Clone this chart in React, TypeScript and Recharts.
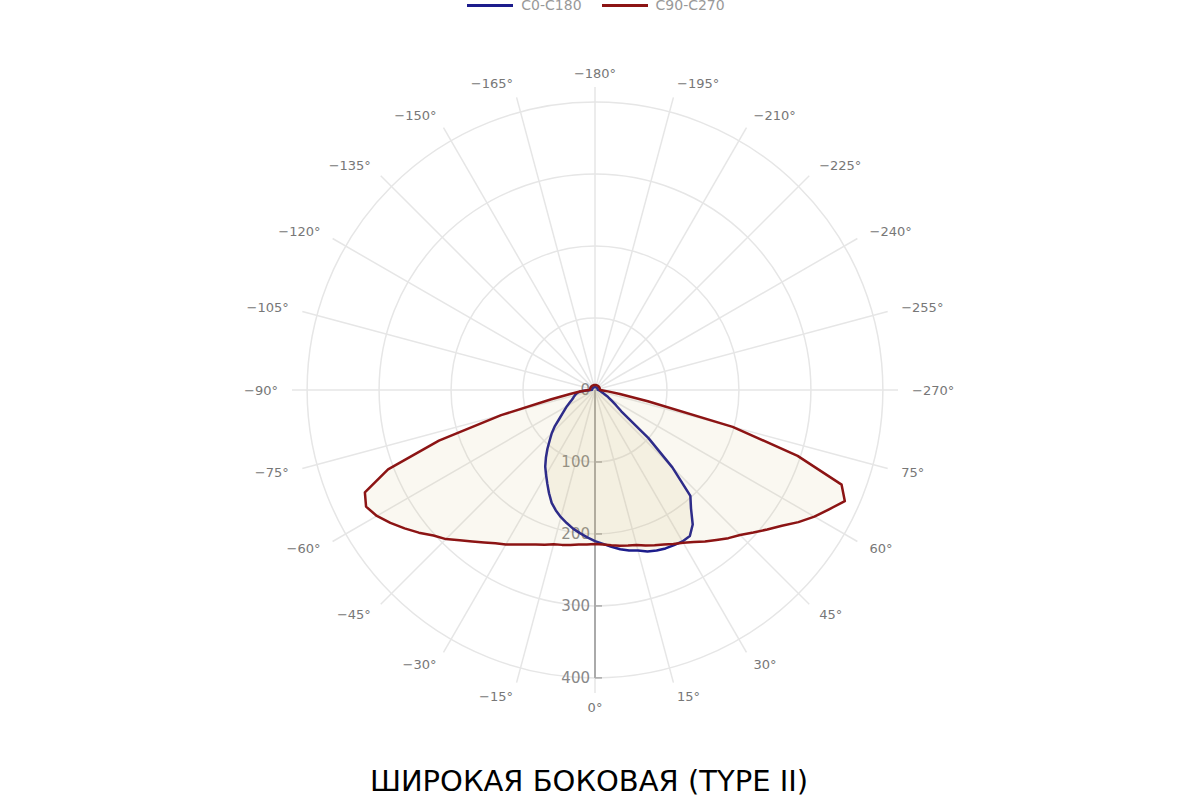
import React from "react";
import {
  RadarChart,
  Radar,
  PolarGrid,
  PolarAngleAxis,
  PolarRadiusAxis,
  Legend,
} from "recharts";

// angle labels every 15°, starting at the bottom and going clockwise
const angleLabels = [
  "0°", "−15°", "−30°", "−45°", "−60°", "−75°",
  "−90°", "−105°", "−120°", "−135°", "−150°", "−165°",
  "−180°", "−195°", "−210°", "−225°", "−240°", "−255°",
  "−270°", "75°", "60°", "45°", "30°", "15°",
];

const radiusTicks = [0, 100, 200, 300, 400];

// sample angles, 3° apart, clockwise from the bottom
const sampleAngles = [
  0, -3, -6, -9, -12, -15, -18, -21, -24, -27, -30, -33,
  -36, -39, -42, -45, -48, -51, -54, -57, -60, -63, -66, -69,
  -72, -75, -78, -81, -84, -87, -90, -93, -96, -99, -102, -105,
  -108, -111, -114, -117, -120, -123, -126, -129, -132, -135, -138, -141,
  -144, -147, -150, -153, -156, -159, -162, -165, -168, -171, -174, -177,
  -180, -183, -186, -189, -192, -195, -198, -201, -204, -207, -210, -213,
  -216, -219, -222, -225, -228, -231, -234, -237, -240, -243, -246, -249,
  -252, -255, -258, -261, -264, -267, -270, -273, -276, -279, -282, -285,
  -288, -291, -294, -297, -300, -303, -306, -309, -312, -315, -318, -321,
  -324, -327, -330, -333, -336, -339, -342, -345, -348, -351, -354, -357,
];

// C0-C180, cd/klm
const c0c180 = [
  210, 205, 200, 195, 189, 183, 176, 168, 157, 146, 136, 127,
  116, 105, 94, 85, 75, 64, 56, 50, 45, 40, 36, 33,
  31, 29, 27, 25, 21, 12, 6, 4, 4, 4, 4, 4,
  4, 4, 4, 4, 4, 4, 4, 4, 4, 4, 4, 4,
  4, 4, 4, 4, 4, 4, 4, 4, 4, 4, 4, 4,
  4, 4, 4, 4, 4, 4, 4, 4, 4, 4, 4, 4,
  4, 4, 4, 4, 4, 4, 4, 4, 4, 4, 4, 4,
  4, 4, 4, 4, 4, 4, 5, 5, 6, 7, 8, 9,
  10, 12, 15, 19, 23, 28, 36, 47, 100, 152, 198, 212,
  231, 242, 243, 242, 241, 239, 236, 231, 228, 224, 219, 214,
];

// C90-C270, cd/klm
const c90c270 = [
  214, 215, 216, 218, 220, 222, 226, 230, 235, 241, 248, 254,
  262, 271, 281, 293, 302, 315, 327, 339, 350, 357, 350, 308,
  228, 135, 62, 35, 21, 13, 8, 7, 7, 7, 7, 7,
  7, 7, 7, 7, 7, 7, 7, 7, 7, 7, 7, 7,
  7, 7, 7, 7, 7, 7, 7, 7, 7, 7, 7, 7,
  7, 7, 7, 7, 7, 7, 7, 7, 7, 7, 7, 7,
  7, 7, 7, 7, 7, 7, 7, 7, 7, 7, 7, 7,
  7, 7, 7, 7, 7, 7, 8, 11, 18, 35, 75, 198,
  296, 367, 380, 365, 352, 337, 321, 308, 296, 285, 277, 268,
  260, 252, 245, 240, 235, 231, 227, 223, 221, 219, 217, 215,
];

const gridData = angleLabels.map((label) => ({ label }));
const curveData = sampleAngles.map((angle, i) => ({
  angle,
  c0: c0c180[i],
  c90: c90c270[i],
}));

const W = 1200;
const H = 740;
const CX = 595;
const CY = 390;
const OUTER = 303;
const DOMAIN: [number, number] = [0, 421];
const FONT = "'DejaVu Sans', sans-serif";

const AngleTick = (props: any) => {
  const { x, y, textAnchor, payload } = props;
  return (
    <text
      x={x}
      y={y}
      textAnchor={textAnchor}
      dominantBaseline="central"
      fill="#777"
      fontSize={13}
      fontFamily={FONT}
    >
      {payload.value}
    </text>
  );
};

const RadiusTick = (props: any) => {
  const { x, y, payload } = props;
  return (
    <g>
      <line x1={x} x2={x + 7} y1={y} y2={y} stroke="#aaa" strokeWidth={1.5} />
      <text
        x={x - 5}
        y={y}
        textAnchor="end"
        dominantBaseline="central"
        fill="#888"
        fontSize={15}
        fontFamily={FONT}
      >
        {payload.value}
      </text>
    </g>
  );
};

const LegendContent = (props: any) => {
  const { payload } = props;
  return (
    <div
      style={{
        display: "flex",
        justifyContent: "center",
        gap: 20,
        fontFamily: FONT,
        fontSize: 14,
        lineHeight: "16px",
        color: "#999",
        marginLeft: -8,
      }}
    >
      {payload.map((p: any) => (
        <span key={p.value} style={{ display: "flex", alignItems: "center" }}>
          <span
            style={{
              display: "inline-block",
              width: 46,
              height: 3,
              background: p.color,
              marginRight: 8,
            }}
          />
          {p.value}
        </span>
      ))}
    </div>
  );
};

export default function App() {
  return (
    <div
      style={{
        position: "absolute",
        left: 0,
        top: 0,
        width: 1200,
        height: 800,
        background: "#fff",
        overflow: "hidden",
      }}
    >
      <div style={{ position: "absolute", left: 0, top: 0 }}>
        <RadarChart
          width={W}
          height={H}
          cx={CX}
          cy={CY}
          outerRadius={OUTER}
          startAngle={270}
          endAngle={-90}
          data={gridData}
          margin={{ top: 0, right: 0, bottom: 0, left: 0 }}
        >
          <PolarGrid gridType="circle" stroke="#e6e6e6" strokeWidth={1.5} />
          <PolarAngleAxis
            dataKey="label"
            tick={<AngleTick />}
            tickLine={false}
            axisLine={false}
            tickSize={14}
          />
          <PolarRadiusAxis
            angle={-90}
            domain={DOMAIN}
            ticks={radiusTicks as any}
            allowDataOverflow
            axisLine={{ stroke: "#aaa", strokeWidth: 2 }}
            tick={<RadiusTick />}
          />
        </RadarChart>
      </div>
      <div style={{ position: "absolute", left: 0, top: 0 }}>
        <RadarChart
          width={W}
          height={H}
          cx={CX}
          cy={CY}
          outerRadius={OUTER}
          startAngle={270}
          endAngle={-90}
          data={curveData}
          margin={{ top: 0, right: 0, bottom: 0, left: 0 }}
        >
          <PolarAngleAxis dataKey="angle" tick={false} tickLine={false} axisLine={false} />
          <PolarRadiusAxis
            angle={-90}
            domain={DOMAIN}
            allowDataOverflow
            tick={false}
            axisLine={false}
          />
          <Radar
            name="C0-C180"
            dataKey="c0"
            stroke="#1c1c8c"
            strokeWidth={2.5}
            strokeLinejoin="round"
            fill="#cdb973"
            fillOpacity={0.12}
            dot={false}
            legendType="plainline"
            isAnimationActive={false}
          />
          <Radar
            name="C90-C270"
            dataKey="c90"
            stroke="#8c1414"
            strokeWidth={2.5}
            strokeLinejoin="round"
            fill="#cdb973"
            fillOpacity={0.1}
            dot={false}
            legendType="plainline"
            isAnimationActive={false}
          />
          <Legend
            verticalAlign="top"
            content={<LegendContent />}
            wrapperStyle={{ top: -3, left: 0, width: 1200 }}
          />
        </RadarChart>
      </div>
      <div
        style={{
          position: "absolute",
          left: 0,
          top: 761,
          width: 1178,
          textAlign: "center",
          fontFamily: "'DejaVu Sans', sans-serif",
          fontSize: 29,
          lineHeight: "40px",
          color: "#000",
        }}
      >
        ШИРОКАЯ БОКОВАЯ (TYPE II)
      </div>
    </div>
  );
}
